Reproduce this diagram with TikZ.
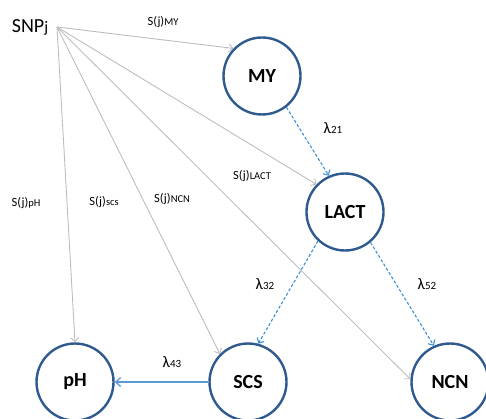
\documentclass[tikz,border=0pt]{standalone}
\usepackage{fontspec}
\setmainfont{Carlito}
\usetikzlibrary{arrows.meta}
\definecolor{ringblue}{HTML}{2F5A8F}
\definecolor{dashblue}{HTML}{3C8FD8}
\definecolor{solidblue}{HTML}{5B9BD5}
\definecolor{graylink}{HTML}{BDBDBD}
\tikzset{
  trait/.style={circle, draw=ringblue, line width=2.4pt, minimum size=77pt, inner sep=0pt,
    font=\fontsize{20}{24}\selectfont\bfseries},
  snplink/.style={draw=graylink, line width=0.9pt, -{Straight Barb[length=4pt,width=8pt]}},
  lamlink/.style={draw=dashblue, line width=1.1pt, dash pattern=on 3pt off 2pt, -{Straight Barb[length=4pt,width=8pt]}},
  sollink/.style={draw=solidblue, line width=1.3pt, -{Straight Barb[length=5pt,width=9pt]}},
  slabel/.style={inner sep=1pt, font=\fontsize{12.5}{14}\selectfont},
  lamlabel/.style={inner sep=1pt, font=\fontsize{16}{18}\selectfont},
}
\newcommand{\smalltxt}[1]{{\fontsize{10.5}{12}\selectfont #1}}
\newcommand{\lamsub}[1]{{\fontsize{11}{13}\selectfont #1}}
\begin{document}
\begin{tikzpicture}[x=1pt,y=1pt]
\useasboundingbox (0,0) rectangle (486,418);
\node[inner sep=0pt, font=\fontsize{20}{24}\selectfont] (snp) at (30,391) {SNP{\fontsize{16}{18}\selectfont j}};
\coordinate (o) at (57,391);
\node[trait] (my) at (262,342) {MY};
\node[trait] (lact) at (345,206) {LACT};
\node[trait] (ph) at (75,36) {pH};
\node[trait] (scs) at (248,36) {SCS};
\node[trait] (ncn) at (450,36) {NCN};
% SNP effects
\draw[snplink] (o) -- (my.136);
\draw[snplink] (o) -- (lact.136);
\draw[snplink] (o) -- (ncn.176);
\draw[snplink] (o) -- (scs.135);
\draw[snplink] (o) -- (ph.north);
% lambda paths
\draw[lamlink] (my.-52) -- (lact.114);
\draw[lamlink] (lact.-133) -- (scs.75);
\draw[lamlink] (lact.-50) -- (ncn.114);
\draw[sollink] (scs.west) -- (ph.east);
% labels
\node[slabel] (lmy) at (163,396) {S(j)\smalltxt{MY}};
\node[slabel] (llact) at (252,242) {S(j)\smalltxt{LACT}};
\node[slabel] (lncn) at (172,219) {S(j)\smalltxt{NCN}};
\node[slabel] (lscs) at (104,216) {S(j)\smalltxt{scs}};
\node[slabel] (lph) at (26,215) {S(j)\smalltxt{pH}};
\node[lamlabel] (l21) at (333,290) {λ\lamsub{21}};
\node[lamlabel] (l32) at (265,134) {λ\lamsub{32}};
\node[lamlabel] (l52) at (427,134) {λ\lamsub{52}};
\node[lamlabel] (l43) at (172,56) {λ\lamsub{43}};
\end{tikzpicture}
\end{document}
